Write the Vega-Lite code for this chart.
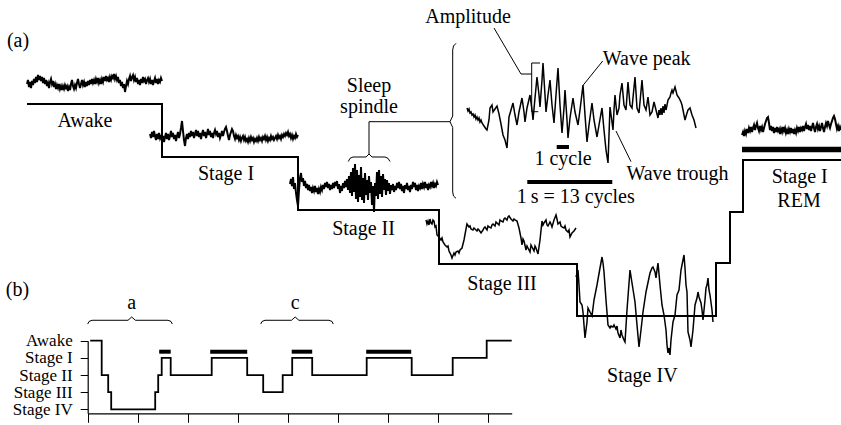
{
  "$schema": "https://vega.github.io/schema/vega-lite/v6.json",
  "width": 841,
  "height": 425,
  "autosize": {"type": "none"},
  "padding": 0,
  "background": "white",
  "config": {"view": {"stroke": null}, "font": "Liberation Serif"},
  "datasets": {
    "steps": [
      {"x": 27, "y": 104}, {"x": 162, "y": 157}, {"x": 298, "y": 210}, {"x": 439, "y": 264},
      {"x": 577, "y": 316}, {"x": 716, "y": 263}, {"x": 730, "y": 212}, {"x": 743, "y": 160}, {"x": 841, "y": 160}
    ],
    "eeg": [
      {"s":"W","x":27,"y":84},{"s":"W","x":28,"y":80},{"s":"W","x":29,"y":87},{"s":"W","x":30,"y":82},{"s":"W","x":31,"y":88},{"s":"W","x":32,"y":81},{"s":"W","x":33,"y":85},{"s":"W","x":34,"y":79},{"s":"W","x":35,"y":83},{"s":"W","x":36,"y":77},{"s":"W","x":37,"y":82},{"s":"W","x":38,"y":75},{"s":"W","x":39,"y":80},{"s":"W","x":40,"y":76},{"s":"W","x":41,"y":81},{"s":"W","x":42,"y":77},{"s":"W","x":43,"y":83},{"s":"W","x":44,"y":78},{"s":"W","x":45,"y":84},{"s":"W","x":46,"y":80},{"s":"W","x":47,"y":86},{"s":"W","x":48,"y":83},{"s":"W","x":49,"y":88},{"s":"W","x":50,"y":82},{"s":"W","x":51,"y":79},{"s":"W","x":52,"y":84},{"s":"W","x":53,"y":81},{"s":"W","x":54,"y":87},{"s":"W","x":55,"y":84},{"s":"W","x":56,"y":89},{"s":"W","x":57,"y":85},{"s":"W","x":58,"y":88},{"s":"W","x":59,"y":84},{"s":"W","x":60,"y":89},{"s":"W","x":61,"y":86},{"s":"W","x":62,"y":90},{"s":"W","x":63,"y":86},{"s":"W","x":64,"y":89},{"s":"W","x":65,"y":85},{"s":"W","x":66,"y":88},{"s":"W","x":67,"y":86},{"s":"W","x":68,"y":91},{"s":"W","x":69,"y":87},{"s":"W","x":70,"y":90},{"s":"W","x":71,"y":84},{"s":"W","x":72,"y":80},{"s":"W","x":73,"y":86},{"s":"W","x":74,"y":89},{"s":"W","x":75,"y":85},{"s":"W","x":76,"y":88},{"s":"W","x":77,"y":83},{"s":"W","x":78,"y":79},{"s":"W","x":79,"y":84},{"s":"W","x":80,"y":88},{"s":"W","x":81,"y":84},{"s":"W","x":82,"y":80},{"s":"W","x":83,"y":85},{"s":"W","x":84,"y":82},{"s":"W","x":85,"y":87},{"s":"W","x":86,"y":82},{"s":"W","x":87,"y":86},{"s":"W","x":88,"y":81},{"s":"W","x":89,"y":85},{"s":"W","x":90,"y":80},{"s":"W","x":91,"y":84},{"s":"W","x":92,"y":79},{"s":"W","x":93,"y":83},{"s":"W","x":94,"y":80},{"s":"W","x":95,"y":84},{"s":"W","x":96,"y":79},{"s":"W","x":97,"y":82},{"s":"W","x":98,"y":78},{"s":"W","x":99,"y":83},{"s":"W","x":100,"y":80},{"s":"W","x":101,"y":84},{"s":"W","x":102,"y":79},{"s":"W","x":103,"y":82},{"s":"W","x":104,"y":77},{"s":"W","x":105,"y":81},{"s":"W","x":106,"y":76},{"s":"W","x":107,"y":80},{"s":"W","x":108,"y":78},{"s":"W","x":109,"y":82},{"s":"W","x":110,"y":77},{"s":"W","x":111,"y":80},{"s":"W","x":112,"y":76},{"s":"W","x":113,"y":78},{"s":"W","x":114,"y":74},{"s":"W","x":115,"y":79},{"s":"W","x":116,"y":76},{"s":"W","x":117,"y":80},{"s":"W","x":118,"y":77},{"s":"W","x":119,"y":83},{"s":"W","x":120,"y":80},{"s":"W","x":121,"y":86},{"s":"W","x":122,"y":82},{"s":"W","x":123,"y":88},{"s":"W","x":124,"y":84},{"s":"W","x":125,"y":92},{"s":"W","x":126,"y":86},{"s":"W","x":127,"y":81},{"s":"W","x":128,"y":84},{"s":"W","x":129,"y":79},{"s":"W","x":130,"y":76},{"s":"W","x":131,"y":81},{"s":"W","x":132,"y":77},{"s":"W","x":133,"y":75},{"s":"W","x":134,"y":80},{"s":"W","x":135,"y":77},{"s":"W","x":136,"y":82},{"s":"W","x":137,"y":78},{"s":"W","x":138,"y":84},{"s":"W","x":139,"y":80},{"s":"W","x":140,"y":85},{"s":"W","x":141,"y":79},{"s":"W","x":142,"y":83},{"s":"W","x":143,"y":77},{"s":"W","x":144,"y":81},{"s":"W","x":145,"y":79},{"s":"W","x":146,"y":84},{"s":"W","x":147,"y":80},{"s":"W","x":148,"y":78},{"s":"W","x":149,"y":82},{"s":"W","x":150,"y":79},{"s":"W","x":151,"y":84},{"s":"W","x":152,"y":80},{"s":"W","x":153,"y":85},{"s":"W","x":154,"y":81},{"s":"W","x":155,"y":78},{"s":"W","x":156,"y":83},{"s":"W","x":157,"y":79},{"s":"W","x":158,"y":84},{"s":"W","x":159,"y":80},{"s":"W","x":160,"y":82},{"s":"W","x":161,"y":78},{"s":"W","x":162,"y":81},
      {"s":"1","x":150,"y":134},{"s":"1","x":151,"y":138},{"s":"1","x":152,"y":132},{"s":"1","x":153,"y":137},{"s":"1","x":154,"y":131},{"s":"1","x":155,"y":136},{"s":"1","x":156,"y":140},{"s":"1","x":157,"y":134},{"s":"1","x":158,"y":139},{"s":"1","x":159,"y":133},{"s":"1","x":160,"y":138},{"s":"1","x":161,"y":135},{"s":"1","x":162,"y":141},{"s":"1","x":163,"y":136},{"s":"1","x":164,"y":142},{"s":"1","x":165,"y":137},{"s":"1","x":166,"y":133},{"s":"1","x":167,"y":139},{"s":"1","x":168,"y":134},{"s":"1","x":169,"y":140},{"s":"1","x":170,"y":136},{"s":"1","x":171,"y":131},{"s":"1","x":172,"y":137},{"s":"1","x":173,"y":133},{"s":"1","x":174,"y":139},{"s":"1","x":175,"y":135},{"s":"1","x":176,"y":141},{"s":"1","x":177,"y":136},{"s":"1","x":178,"y":132},{"s":"1","x":179,"y":138},{"s":"1","x":180,"y":134},{"s":"1","x":181,"y":128},{"s":"1","x":182,"y":121},{"s":"1","x":183,"y":131},{"s":"1","x":184,"y":140},{"s":"1","x":185,"y":146},{"s":"1","x":186,"y":138},{"s":"1","x":187,"y":134},{"s":"1","x":188,"y":139},{"s":"1","x":189,"y":133},{"s":"1","x":190,"y":137},{"s":"1","x":191,"y":131},{"s":"1","x":192,"y":136},{"s":"1","x":193,"y":132},{"s":"1","x":194,"y":138},{"s":"1","x":195,"y":134},{"s":"1","x":196,"y":130},{"s":"1","x":197,"y":136},{"s":"1","x":198,"y":131},{"s":"1","x":199,"y":137},{"s":"1","x":200,"y":133},{"s":"1","x":201,"y":139},{"s":"1","x":202,"y":134},{"s":"1","x":203,"y":130},{"s":"1","x":204,"y":136},{"s":"1","x":205,"y":132},{"s":"1","x":206,"y":138},{"s":"1","x":207,"y":134},{"s":"1","x":208,"y":129},{"s":"1","x":209,"y":135},{"s":"1","x":210,"y":131},{"s":"1","x":211,"y":137},{"s":"1","x":212,"y":133},{"s":"1","x":213,"y":138},{"s":"1","x":214,"y":133},{"s":"1","x":215,"y":130},{"s":"1","x":216,"y":134},{"s":"1","x":217,"y":131},{"s":"1","x":218,"y":137},{"s":"1","x":219,"y":133},{"s":"1","x":220,"y":138},{"s":"1","x":221,"y":135},{"s":"1","x":222,"y":131},{"s":"1","x":223,"y":136},{"s":"1","x":224,"y":132},{"s":"1","x":225,"y":129},{"s":"1","x":226,"y":127},{"s":"1","x":227,"y":131},{"s":"1","x":228,"y":136},{"s":"1","x":229,"y":140},{"s":"1","x":230,"y":135},{"s":"1","x":231,"y":132},{"s":"1","x":232,"y":129},{"s":"1","x":233,"y":131},{"s":"1","x":234,"y":136},{"s":"1","x":235,"y":139},{"s":"1","x":236,"y":135},{"s":"1","x":237,"y":138},{"s":"1","x":238,"y":136},{"s":"1","x":239,"y":140},{"s":"1","x":240,"y":137},{"s":"1","x":241,"y":141},{"s":"1","x":242,"y":138},{"s":"1","x":243,"y":136},{"s":"1","x":244,"y":140},{"s":"1","x":245,"y":137},{"s":"1","x":246,"y":141},{"s":"1","x":247,"y":139},{"s":"1","x":248,"y":142},{"s":"1","x":249,"y":138},{"s":"1","x":250,"y":141},{"s":"1","x":251,"y":137},{"s":"1","x":252,"y":140},{"s":"1","x":253,"y":138},{"s":"1","x":254,"y":142},{"s":"1","x":255,"y":139},{"s":"1","x":256,"y":141},{"s":"1","x":257,"y":138},{"s":"1","x":258,"y":141},{"s":"1","x":259,"y":137},{"s":"1","x":260,"y":140},{"s":"1","x":261,"y":138},{"s":"1","x":262,"y":141},{"s":"1","x":263,"y":137},{"s":"1","x":264,"y":139},{"s":"1","x":265,"y":136},{"s":"1","x":266,"y":140},{"s":"1","x":267,"y":137},{"s":"1","x":268,"y":141},{"s":"1","x":269,"y":138},{"s":"1","x":270,"y":140},{"s":"1","x":271,"y":136},{"s":"1","x":272,"y":139},{"s":"1","x":273,"y":137},{"s":"1","x":274,"y":140},{"s":"1","x":275,"y":138},{"s":"1","x":276,"y":136},{"s":"1","x":277,"y":139},{"s":"1","x":278,"y":135},{"s":"1","x":279,"y":138},{"s":"1","x":280,"y":136},{"s":"1","x":281,"y":139},{"s":"1","x":282,"y":135},{"s":"1","x":283,"y":137},{"s":"1","x":284,"y":134},{"s":"1","x":285,"y":136},{"s":"1","x":286,"y":133},{"s":"1","x":287,"y":135},{"s":"1","x":288,"y":132},{"s":"1","x":289,"y":136},{"s":"1","x":290,"y":134},{"s":"1","x":291,"y":138},{"s":"1","x":292,"y":135},{"s":"1","x":293,"y":139},{"s":"1","x":294,"y":136},{"s":"1","x":295,"y":138},{"s":"1","x":296,"y":134},{"s":"1","x":297,"y":137},{"s":"1","x":298,"y":135},
      {"s":"2","x":290,"y":184},{"s":"2","x":291,"y":179},{"s":"2","x":292,"y":186},{"s":"2","x":293,"y":177},{"s":"2","x":294,"y":189},{"s":"2","x":295,"y":183},{"s":"2","x":296,"y":193},{"s":"2","x":297,"y":200},{"s":"2","x":298,"y":206},{"s":"2","x":299,"y":190},{"s":"2","x":300,"y":178},{"s":"2","x":301,"y":173},{"s":"2","x":302,"y":182},{"s":"2","x":303,"y":178},{"s":"2","x":304,"y":186},{"s":"2","x":305,"y":181},{"s":"2","x":306,"y":188},{"s":"2","x":307,"y":184},{"s":"2","x":308,"y":190},{"s":"2","x":309,"y":185},{"s":"2","x":310,"y":191},{"s":"2","x":311,"y":187},{"s":"2","x":312,"y":193},{"s":"2","x":313,"y":188},{"s":"2","x":314,"y":191},{"s":"2","x":315,"y":186},{"s":"2","x":316,"y":192},{"s":"2","x":317,"y":188},{"s":"2","x":318,"y":194},{"s":"2","x":319,"y":189},{"s":"2","x":320,"y":192},{"s":"2","x":321,"y":187},{"s":"2","x":322,"y":190},{"s":"2","x":323,"y":185},{"s":"2","x":324,"y":189},{"s":"2","x":325,"y":183},{"s":"2","x":326,"y":187},{"s":"2","x":327,"y":182},{"s":"2","x":328,"y":188},{"s":"2","x":329,"y":184},{"s":"2","x":330,"y":190},{"s":"2","x":331,"y":185},{"s":"2","x":332,"y":189},{"s":"2","x":333,"y":183},{"s":"2","x":334,"y":188},{"s":"2","x":335,"y":182},{"s":"2","x":336,"y":186},{"s":"2","x":337,"y":181},{"s":"2","x":338,"y":189},{"s":"2","x":339,"y":184},{"s":"2","x":340,"y":193},{"s":"2","x":341,"y":186},{"s":"2","x":342,"y":191},{"s":"2","x":343,"y":183},{"s":"2","x":344,"y":188},{"s":"2","x":345,"y":181},{"s":"2","x":346,"y":187},{"s":"2","x":347,"y":179},{"s":"2","x":348,"y":190},{"s":"2","x":349,"y":176},{"s":"2","x":350,"y":193},{"s":"2","x":351,"y":172},{"s":"2","x":352,"y":196},{"s":"2","x":353,"y":168},{"s":"2","x":354,"y":192},{"s":"2","x":355,"y":164},{"s":"2","x":356,"y":199},{"s":"2","x":357,"y":170},{"s":"2","x":358,"y":202},{"s":"2","x":359,"y":175},{"s":"2","x":360,"y":197},{"s":"2","x":361,"y":167},{"s":"2","x":362,"y":200},{"s":"2","x":363,"y":178},{"s":"2","x":364,"y":203},{"s":"2","x":365,"y":173},{"s":"2","x":366,"y":195},{"s":"2","x":367,"y":180},{"s":"2","x":368,"y":200},{"s":"2","x":369,"y":176},{"s":"2","x":370,"y":193},{"s":"2","x":371,"y":182},{"s":"2","x":372,"y":205},{"s":"2","x":373,"y":186},{"s":"2","x":374,"y":212},{"s":"2","x":375,"y":183},{"s":"2","x":376,"y":196},{"s":"2","x":377,"y":172},{"s":"2","x":378,"y":199},{"s":"2","x":379,"y":170},{"s":"2","x":380,"y":194},{"s":"2","x":381,"y":176},{"s":"2","x":382,"y":197},{"s":"2","x":383,"y":174},{"s":"2","x":384,"y":190},{"s":"2","x":385,"y":179},{"s":"2","x":386,"y":195},{"s":"2","x":387,"y":180},{"s":"2","x":388,"y":191},{"s":"2","x":389,"y":183},{"s":"2","x":390,"y":194},{"s":"2","x":391,"y":185},{"s":"2","x":392,"y":190},{"s":"2","x":393,"y":184},{"s":"2","x":394,"y":192},{"s":"2","x":395,"y":186},{"s":"2","x":396,"y":190},{"s":"2","x":397,"y":183},{"s":"2","x":398,"y":188},{"s":"2","x":399,"y":182},{"s":"2","x":400,"y":189},{"s":"2","x":401,"y":184},{"s":"2","x":402,"y":191},{"s":"2","x":403,"y":186},{"s":"2","x":404,"y":193},{"s":"2","x":405,"y":185},{"s":"2","x":406,"y":189},{"s":"2","x":407,"y":183},{"s":"2","x":408,"y":190},{"s":"2","x":409,"y":186},{"s":"2","x":410,"y":192},{"s":"2","x":411,"y":185},{"s":"2","x":412,"y":189},{"s":"2","x":413,"y":182},{"s":"2","x":414,"y":187},{"s":"2","x":415,"y":183},{"s":"2","x":416,"y":190},{"s":"2","x":417,"y":185},{"s":"2","x":418,"y":191},{"s":"2","x":419,"y":186},{"s":"2","x":420,"y":188},{"s":"2","x":421,"y":183},{"s":"2","x":422,"y":189},{"s":"2","x":423,"y":184},{"s":"2","x":424,"y":187},{"s":"2","x":425,"y":182},{"s":"2","x":426,"y":188},{"s":"2","x":427,"y":184},{"s":"2","x":428,"y":190},{"s":"2","x":429,"y":185},{"s":"2","x":430,"y":187},{"s":"2","x":431,"y":182},{"s":"2","x":432,"y":186},{"s":"2","x":433,"y":183},{"s":"2","x":434,"y":188},{"s":"2","x":435,"y":184},{"s":"2","x":436,"y":186},{"s":"2","x":437,"y":182},{"s":"2","x":438,"y":185},
      {"s":"3","x":426,"y":220},{"s":"3","x":427,"y":224},{"s":"3","x":428,"y":221},{"s":"3","x":429,"y":225},{"s":"3","x":430,"y":219},{"s":"3","x":431,"y":223},{"s":"3","x":432,"y":224},{"s":"3","x":433,"y":220},{"s":"3","x":434,"y":221},{"s":"3","x":435,"y":227},{"s":"3","x":436,"y":226},{"s":"3","x":437,"y":235},{"s":"3","x":439,"y":237},{"s":"3","x":441,"y":240},{"s":"3","x":442,"y":238},{"s":"3","x":443,"y":242},{"s":"3","x":445,"y":245},{"s":"3","x":447,"y":247},{"s":"3","x":448,"y":246},{"s":"3","x":449,"y":251},{"s":"3","x":451,"y":255},{"s":"3","x":452,"y":258},{"s":"3","x":454,"y":253},{"s":"3","x":455,"y":255},{"s":"3","x":456,"y":252},{"s":"3","x":458,"y":251},{"s":"3","x":459,"y":253},{"s":"3","x":460,"y":250},{"s":"3","x":462,"y":248},{"s":"3","x":464,"y":240},{"s":"3","x":466,"y":229},{"s":"3","x":467,"y":224},{"s":"3","x":469,"y":227},{"s":"3","x":470,"y":226},{"s":"3","x":471,"y":229},{"s":"3","x":473,"y":230},{"s":"3","x":474,"y":228},{"s":"3","x":475,"y":229},{"s":"3","x":477,"y":231},{"s":"3","x":478,"y":229},{"s":"3","x":479,"y":230},{"s":"3","x":481,"y":233},{"s":"3","x":483,"y":230},{"s":"3","x":484,"y":228},{"s":"3","x":485,"y":227},{"s":"3","x":487,"y":230},{"s":"3","x":488,"y":226},{"s":"3","x":489,"y":227},{"s":"3","x":491,"y":228},{"s":"3","x":492,"y":225},{"s":"3","x":493,"y":224},{"s":"3","x":495,"y":226},{"s":"3","x":496,"y":222},{"s":"3","x":497,"y":223},{"s":"3","x":499,"y":225},{"s":"3","x":500,"y":220},{"s":"3","x":501,"y":221},{"s":"3","x":503,"y":222},{"s":"3","x":504,"y":219},{"s":"3","x":505,"y":218},{"s":"3","x":507,"y":220},{"s":"3","x":508,"y":217},{"s":"3","x":509,"y":216},{"s":"3","x":511,"y":219},{"s":"3","x":513,"y":221},{"s":"3","x":514,"y":219},{"s":"3","x":515,"y":220},{"s":"3","x":517,"y":221},{"s":"3","x":519,"y":228},{"s":"3","x":521,"y":238},{"s":"3","x":522,"y":245},{"s":"3","x":523,"y":239},{"s":"3","x":524,"y":241},{"s":"3","x":526,"y":250},{"s":"3","x":527,"y":246},{"s":"3","x":528,"y":248},{"s":"3","x":530,"y":252},{"s":"3","x":531,"y":245},{"s":"3","x":532,"y":247},{"s":"3","x":534,"y":251},{"s":"3","x":535,"y":246},{"s":"3","x":536,"y":248},{"s":"3","x":538,"y":254},{"s":"3","x":540,"y":240},{"s":"3","x":542,"y":221},{"s":"3","x":543,"y":225},{"s":"3","x":544,"y":223},{"s":"3","x":546,"y":220},{"s":"3","x":547,"y":225},{"s":"3","x":548,"y":226},{"s":"3","x":550,"y":222},{"s":"3","x":551,"y":224},{"s":"3","x":552,"y":227},{"s":"3","x":554,"y":220},{"s":"3","x":556,"y":215},{"s":"3","x":557,"y":219},{"s":"3","x":558,"y":224},{"s":"3","x":560,"y":222},{"s":"3","x":561,"y":226},{"s":"3","x":562,"y":227},{"s":"3","x":564,"y":228},{"s":"3","x":565,"y":226},{"s":"3","x":566,"y":230},{"s":"3","x":568,"y":232},{"s":"3","x":569,"y":230},{"s":"3","x":570,"y":237},{"s":"3","x":572,"y":233},{"s":"3","x":574,"y":231},{"s":"3","x":576,"y":228},
      {"s":"4","x":576,"y":277},{"s":"4","x":578,"y":270},{"s":"4","x":579,"y":285},{"s":"4","x":580,"y":302},{"s":"4","x":582,"y":305},{"s":"4","x":583,"y":312},{"s":"4","x":585,"y":338},{"s":"4","x":587,"y":322},{"s":"4","x":588,"y":308},{"s":"4","x":590,"y":312},{"s":"4","x":592,"y":316},{"s":"4","x":594,"y":300},{"s":"4","x":597,"y":285},{"s":"4","x":600,"y":268},{"s":"4","x":602,"y":257},{"s":"4","x":603,"y":263},{"s":"4","x":604,"y":272},{"s":"4","x":606,"y":300},{"s":"4","x":608,"y":325},{"s":"4","x":610,"y":328},{"s":"4","x":611,"y":326},{"s":"4","x":613,"y":327},{"s":"4","x":614,"y":325},{"s":"4","x":616,"y":329},{"s":"4","x":617,"y":326},{"s":"4","x":618,"y":333},{"s":"4","x":620,"y":338},{"s":"4","x":621,"y":330},{"s":"4","x":622,"y":335},{"s":"4","x":624,"y":340},{"s":"4","x":625,"y":342},{"s":"4","x":627,"y":310},{"s":"4","x":630,"y":270},{"s":"4","x":632,"y":283},{"s":"4","x":635,"y":302},{"s":"4","x":637,"y":325},{"s":"4","x":639,"y":347},{"s":"4","x":641,"y":330},{"s":"4","x":643,"y":312},{"s":"4","x":646,"y":292},{"s":"4","x":650,"y":273},{"s":"4","x":652,"y":268},{"s":"4","x":653,"y":267},{"s":"4","x":655,"y":272},{"s":"4","x":656,"y":278},{"s":"4","x":657,"y":270},{"s":"4","x":658,"y":263},{"s":"4","x":660,"y":285},{"s":"4","x":662,"y":305},{"s":"4","x":664,"y":315},{"s":"4","x":666,"y":330},{"s":"4","x":667,"y":345},{"s":"4","x":668,"y":353},{"s":"4","x":669,"y":348},{"s":"4","x":670,"y":355},{"s":"4","x":671,"y":340},{"s":"4","x":673,"y":322},{"s":"4","x":675,"y":315},{"s":"4","x":677,"y":295},{"s":"4","x":679,"y":290},{"s":"4","x":681,"y":270},{"s":"4","x":682,"y":265},{"s":"4","x":684,"y":255},{"s":"4","x":685,"y":268},{"s":"4","x":686,"y":285},{"s":"4","x":687,"y":292},{"s":"4","x":688,"y":332},{"s":"4","x":690,"y":340},{"s":"4","x":691,"y":347},{"s":"4","x":693,"y":330},{"s":"4","x":695,"y":305},{"s":"4","x":697,"y":298},{"s":"4","x":698,"y":292},{"s":"4","x":699,"y":297},{"s":"4","x":701,"y":303},{"s":"4","x":702,"y":310},{"s":"4","x":703,"y":320},{"s":"4","x":705,"y":300},{"s":"4","x":706,"y":288},{"s":"4","x":707,"y":285},{"s":"4","x":708,"y":278},{"s":"4","x":709,"y":290},{"s":"4","x":710,"y":295},{"s":"4","x":712,"y":310},{"s":"4","x":713,"y":322},
      {"s":"Z","x":467,"y":108},{"s":"Z","x":468,"y":111},{"s":"Z","x":469,"y":109},{"s":"Z","x":470,"y":113},{"s":"Z","x":471,"y":112},{"s":"Z","x":472,"y":115},{"s":"Z","x":473,"y":114},{"s":"Z","x":474,"y":117},{"s":"Z","x":475,"y":115},{"s":"Z","x":476,"y":119},{"s":"Z","x":477,"y":117},{"s":"Z","x":478,"y":120},{"s":"Z","x":479,"y":118},{"s":"Z","x":480,"y":122},{"s":"Z","x":481,"y":120},{"s":"Z","x":482,"y":123},{"s":"Z","x":484,"y":126},{"s":"Z","x":486,"y":129},{"s":"Z","x":487,"y":130},{"s":"Z","x":489,"y":120},{"s":"Z","x":490,"y":108},{"s":"Z","x":492,"y":105},{"s":"Z","x":493,"y":112},{"s":"Z","x":495,"y":109},{"s":"Z","x":497,"y":106},{"s":"Z","x":499,"y":114},{"s":"Z","x":501,"y":124},{"s":"Z","x":503,"y":135},{"s":"Z","x":505,"y":140},{"s":"Z","x":507,"y":148},{"s":"Z","x":509,"y":117},{"s":"Z","x":511,"y":110},{"s":"Z","x":513,"y":103},{"s":"Z","x":515,"y":115},{"s":"Z","x":517,"y":125},{"s":"Z","x":519,"y":112},{"s":"Z","x":522,"y":98},{"s":"Z","x":524,"y":112},{"s":"Z","x":525,"y":122},{"s":"Z","x":527,"y":108},{"s":"Z","x":530,"y":95},{"s":"Z","x":532,"y":110},{"s":"Z","x":533,"y":120},{"s":"Z","x":535,"y":98},{"s":"Z","x":537,"y":77},{"s":"Z","x":539,"y":95},{"s":"Z","x":540,"y":107},{"s":"Z","x":542,"y":80},{"s":"Z","x":543,"y":63},{"s":"Z","x":545,"y":95},{"s":"Z","x":546,"y":112},{"s":"Z","x":548,"y":95},{"s":"Z","x":550,"y":80},{"s":"Z","x":552,"y":105},{"s":"Z","x":554,"y":123},{"s":"Z","x":556,"y":95},{"s":"Z","x":558,"y":68},{"s":"Z","x":560,"y":105},{"s":"Z","x":562,"y":133},{"s":"Z","x":564,"y":108},{"s":"Z","x":565,"y":90},{"s":"Z","x":567,"y":120},{"s":"Z","x":568,"y":138},{"s":"Z","x":570,"y":118},{"s":"Z","x":573,"y":98},{"s":"Z","x":575,"y":112},{"s":"Z","x":578,"y":125},{"s":"Z","x":580,"y":110},{"s":"Z","x":583,"y":85},{"s":"Z","x":585,"y":115},{"s":"Z","x":587,"y":142},{"s":"Z","x":589,"y":125},{"s":"Z","x":592,"y":103},{"s":"Z","x":594,"y":120},{"s":"Z","x":597,"y":137},{"s":"Z","x":599,"y":125},{"s":"Z","x":602,"y":108},{"s":"Z","x":604,"y":130},{"s":"Z","x":606,"y":150},{"s":"Z","x":608,"y":163},{"s":"Z","x":610,"y":107},{"s":"Z","x":612,"y":122},{"s":"Z","x":613,"y":130},{"s":"Z","x":614,"y":110},{"s":"Z","x":615,"y":95},{"s":"Z","x":617,"y":115},{"s":"Z","x":619,"y":108},{"s":"Z","x":620,"y":95},{"s":"Z","x":622,"y":83},{"s":"Z","x":624,"y":105},{"s":"Z","x":626,"y":110},{"s":"Z","x":628,"y":82},{"s":"Z","x":630,"y":105},{"s":"Z","x":632,"y":108},{"s":"Z","x":635,"y":77},{"s":"Z","x":637,"y":108},{"s":"Z","x":639,"y":113},{"s":"Z","x":642,"y":80},{"s":"Z","x":644,"y":105},{"s":"Z","x":646,"y":110},{"s":"Z","x":648,"y":97},{"s":"Z","x":650,"y":115},{"s":"Z","x":652,"y":112},{"s":"Z","x":654,"y":102},{"s":"Z","x":656,"y":110},{"s":"Z","x":658,"y":118},{"s":"Z","x":659,"y":110},{"s":"Z","x":660,"y":115},{"s":"Z","x":661,"y":108},{"s":"Z","x":662,"y":115},{"s":"Z","x":663,"y":106},{"s":"Z","x":664,"y":113},{"s":"Z","x":665,"y":104},{"s":"Z","x":666,"y":110},{"s":"Z","x":668,"y":100},{"s":"Z","x":670,"y":97},{"s":"Z","x":671,"y":93},{"s":"Z","x":672,"y":90},{"s":"Z","x":673,"y":93},{"s":"Z","x":675,"y":87},{"s":"Z","x":677,"y":95},{"s":"Z","x":679,"y":98},{"s":"Z","x":681,"y":102},{"s":"Z","x":682,"y":105},{"s":"Z","x":684,"y":115},{"s":"Z","x":685,"y":120},{"s":"Z","x":687,"y":113},{"s":"Z","x":688,"y":110},{"s":"Z","x":690,"y":108},{"s":"Z","x":692,"y":115},{"s":"Z","x":694,"y":120},{"s":"Z","x":696,"y":128},
      {"s":"R","x":742,"y":135},{"s":"R","x":743,"y":132},{"s":"R","x":744,"y":136},{"s":"R","x":745,"y":131},{"s":"R","x":746,"y":134},{"s":"R","x":747,"y":129},{"s":"R","x":748,"y":133},{"s":"R","x":749,"y":128},{"s":"R","x":750,"y":131},{"s":"R","x":751,"y":127},{"s":"R","x":752,"y":132},{"s":"R","x":753,"y":128},{"s":"R","x":754,"y":125},{"s":"R","x":755,"y":130},{"s":"R","x":756,"y":126},{"s":"R","x":757,"y":123},{"s":"R","x":758,"y":128},{"s":"R","x":759,"y":131},{"s":"R","x":760,"y":126},{"s":"R","x":761,"y":130},{"s":"R","x":762,"y":127},{"s":"R","x":763,"y":132},{"s":"R","x":764,"y":128},{"s":"R","x":765,"y":124},{"s":"R","x":766,"y":121},{"s":"R","x":767,"y":118},{"s":"R","x":768,"y":117},{"s":"R","x":769,"y":123},{"s":"R","x":770,"y":130},{"s":"R","x":771,"y":126},{"s":"R","x":772,"y":131},{"s":"R","x":773,"y":127},{"s":"R","x":774,"y":133},{"s":"R","x":775,"y":128},{"s":"R","x":776,"y":132},{"s":"R","x":777,"y":127},{"s":"R","x":778,"y":131},{"s":"R","x":779,"y":129},{"s":"R","x":780,"y":134},{"s":"R","x":781,"y":129},{"s":"R","x":782,"y":132},{"s":"R","x":783,"y":127},{"s":"R","x":784,"y":131},{"s":"R","x":785,"y":128},{"s":"R","x":786,"y":133},{"s":"R","x":787,"y":130},{"s":"R","x":788,"y":134},{"s":"R","x":789,"y":129},{"s":"R","x":790,"y":132},{"s":"R","x":791,"y":128},{"s":"R","x":792,"y":133},{"s":"R","x":793,"y":129},{"s":"R","x":794,"y":134},{"s":"R","x":795,"y":130},{"s":"R","x":796,"y":133},{"s":"R","x":797,"y":128},{"s":"R","x":798,"y":131},{"s":"R","x":799,"y":127},{"s":"R","x":800,"y":132},{"s":"R","x":801,"y":128},{"s":"R","x":802,"y":130},{"s":"R","x":803,"y":126},{"s":"R","x":804,"y":131},{"s":"R","x":805,"y":127},{"s":"R","x":806,"y":124},{"s":"R","x":807,"y":129},{"s":"R","x":808,"y":125},{"s":"R","x":809,"y":130},{"s":"R","x":810,"y":126},{"s":"R","x":811,"y":131},{"s":"R","x":812,"y":127},{"s":"R","x":813,"y":123},{"s":"R","x":814,"y":128},{"s":"R","x":815,"y":132},{"s":"R","x":816,"y":127},{"s":"R","x":817,"y":124},{"s":"R","x":818,"y":129},{"s":"R","x":819,"y":126},{"s":"R","x":820,"y":131},{"s":"R","x":821,"y":127},{"s":"R","x":822,"y":123},{"s":"R","x":823,"y":128},{"s":"R","x":824,"y":132},{"s":"R","x":825,"y":127},{"s":"R","x":826,"y":123},{"s":"R","x":827,"y":126},{"s":"R","x":828,"y":121},{"s":"R","x":829,"y":125},{"s":"R","x":830,"y":128},{"s":"R","x":831,"y":124},{"s":"R","x":832,"y":121},{"s":"R","x":833,"y":118},{"s":"R","x":834,"y":116},{"s":"R","x":835,"y":119},{"s":"R","x":836,"y":124},{"s":"R","x":837,"y":129},{"s":"R","x":838,"y":126},{"s":"R","x":839,"y":131},{"s":"R","x":840,"y":127},{"s":"R","x":841,"y":130}
    ],
    "ann": [
      {"p":"spb","x":348.3,"y":161.5},{"p":"spb","x":350,"y":158.3},{"p":"spb","x":353,"y":157},{"p":"spb","x":366,"y":157},{"p":"spb","x":369,"y":154},{"p":"spb","x":372,"y":157},{"p":"spb","x":385,"y":157},{"p":"spb","x":388,"y":158.3},{"p":"spb","x":390,"y":161.5},
      {"p":"spl","x":369,"y":154},{"p":"spl","x":369,"y":121.7},{"p":"spl","x":450,"y":121.7},
      {"p":"big","x":456,"y":43.3},{"p":"big","x":453.5,"y":46},{"p":"big","x":452.7,"y":50},{"p":"big","x":452.7,"y":116},{"p":"big","x":450,"y":121.7},{"p":"big","x":452.7,"y":127.5},{"p":"big","x":452.7,"y":192},{"p":"big","x":453.5,"y":196},{"p":"big","x":456,"y":198.3},
      {"p":"amp1","x":494,"y":28},{"p":"amp1","x":521,"y":74},{"p":"amp1","x":531.7,"y":74},
      {"p":"amp2","x":540,"y":63},{"p":"amp2","x":531.7,"y":63},{"p":"amp2","x":531.7,"y":111.7},{"p":"amp2","x":538.3,"y":111.7},
      {"p":"pk","x":602.7,"y":61},{"p":"pk","x":583.3,"y":85},
      {"p":"tr","x":631,"y":161.7},{"p":"tr","x":616,"y":131}
    ],
    "bars": [
      {"k":"rem","x":742,"x2":841,"y":149.5},
      {"k":"cycle","x":556.7,"x2":569,"y":147},
      {"k":"second","x":527.3,"x2":612.3,"y":182}
    ],
    "labels": [
      {"t":"(a)","x":18,"y":47},
      {"t":"Awake","x":85,"y":127},
      {"t":"Stage I","x":226,"y":180},
      {"t":"Sleep","x":369,"y":91.7},
      {"t":"spindle","x":369,"y":113.3},
      {"t":"Stage II","x":363.5,"y":235},
      {"t":"Amplitude","x":468,"y":22.5},
      {"t":"Wave peak","x":646.7,"y":65},
      {"t":"1 cycle","x":563,"y":165},
      {"t":"Wave trough","x":677.5,"y":180},
      {"t":"1\u2009s = 13 cycles","x":575.7,"y":203},
      {"t":"Stage III","x":502,"y":290},
      {"t":"Stage IV","x":642.3,"y":381.7},
      {"t":"Stage I","x":799.7,"y":183.3},
      {"t":"REM","x":799,"y":206.7},
      {"t":"(b)","x":17.5,"y":296}
    ],
    "hyp": [
      {"h":0.05,"s":0},{"h":0.28,"s":2},{"h":0.41,"s":3},{"h":0.47,"s":4},{"h":1.35,"s":3},{"h":1.41,"s":2},{"h":1.48,"s":1},{"h":1.66,"s":2},{"h":2.48,"s":1},{"h":3.19,"s":2},{"h":3.51,"s":3},{"h":3.9,"s":2},{"h":4.09,"s":1},{"h":4.49,"s":2},{"h":5.58,"s":1},{"h":6.48,"s":2},{"h":7.3,"s":1},{"h":7.98,"s":0},{"h":8.48,"s":0}
    ],
    "remBars": [
      {"h":1.43,"h2":1.66,"s":0.64},{"h":2.45,"h2":3.19,"s":0.64},{"h":4.08,"h2":4.49,"s":0.64},{"h":5.57,"h2":6.47,"s":0.64}
    ],
    "braces": [
      {"b":"a","h":0,"s":-0.97},{"b":"a","h":0.026,"s":-1.12},{"b":"a","h":0.086,"s":-1.19},{"b":"a","h":0.806,"s":-1.19},{"b":"a","h":0.88,"s":-1.38},{"b":"a","h":0.954,"s":-1.19},{"b":"a","h":1.606,"s":-1.19},{"b":"a","h":1.666,"s":-1.12},{"b":"a","h":1.692,"s":-0.97},
      {"b":"c","h":3.46,"s":-0.97},{"b":"c","h":3.486,"s":-1.12},{"b":"c","h":3.546,"s":-1.19},{"b":"c","h":4.076,"s":-1.19},{"b":"c","h":4.15,"s":-1.38},{"b":"c","h":4.224,"s":-1.19},{"b":"c","h":4.826,"s":-1.19},{"b":"c","h":4.886,"s":-1.12},{"b":"c","h":4.912,"s":-0.97}
    ],
    "braceLabels": [
      {"t":"a","h":0.88,"s":-1.83},
      {"t":"c","h":4.15,"s":-1.83}
    ]
  },
  "layer": [
    {
      "encoding": {
        "x": {"field": "x", "type": "quantitative", "scale": {"domain": [0, 841], "range": [0, 841], "nice": false, "zero": false}, "axis": null},
        "y": {"field": "y", "type": "quantitative", "scale": {"domain": [0, 425], "range": [0, 425], "nice": false, "zero": false}, "axis": null}
      },
      "layer": [
        {
          "data": {"name": "steps"},
          "mark": {"type": "line", "interpolate": "step-after", "color": "black", "strokeWidth": 2},
          "encoding": {}
        },
        {
          "data": {"name": "eeg"},
          "transform": [{"filter": "indexof(['W','1','2','R'], datum.s) >= 0"}],
          "mark": {"type": "line", "color": "black", "strokeWidth": 2},
          "encoding": {"detail": {"field": "s"}, "order": {"value": null}}
        },
        {
          "data": {"name": "eeg"},
          "transform": [{"filter": "indexof(['W','1','2','R'], datum.s) < 0"}],
          "mark": {"type": "line", "color": "black", "strokeWidth": 1.5},
          "encoding": {"detail": {"field": "s"}, "order": {"value": null}}
        },
        {
          "data": {"name": "ann"},
          "mark": {"type": "line", "color": "black", "strokeWidth": 1},
          "encoding": {"detail": {"field": "p"}, "order": {"value": null}}
        },
        {
          "data": {"name": "bars"},
          "transform": [{"filter": "datum.k === 'rem'"}],
          "mark": {"type": "rule", "color": "black", "strokeWidth": 5.5},
          "encoding": {"x2": {"field": "x2"}}
        },
        {
          "data": {"name": "bars"},
          "transform": [{"filter": "datum.k !== 'rem'"}],
          "mark": {"type": "rule", "color": "black", "strokeWidth": 4},
          "encoding": {"x2": {"field": "x2"}}
        },
        {
          "data": {"name": "labels"},
          "mark": {"type": "text", "font": "Liberation Serif", "fontSize": 20, "color": "black", "align": "center", "baseline": "alphabetic"},
          "encoding": {"text": {"field": "t"}}
        }
      ]
    },
    {
      "encoding": {
        "x": {
          "field": "h", "type": "quantitative",
          "scale": {"domain": [0, 8.48], "range": [87.7, 511.7], "nice": false, "zero": false},
          "axis": {"orient": "bottom", "offset": -11.7, "values": [0, 1, 2, 3, 4, 5, 6, 7, 8], "labels": false, "ticks": true, "tickSize": 9, "tickColor": "black", "domainColor": "black", "domainWidth": 1.2, "grid": false, "title": null}
        },
        "y": {
          "field": "s", "type": "quantitative",
          "scale": {"domain": [0, 4.23], "range": [340.7, 413.3], "nice": false, "zero": false},
          "axis": {"orient": "left", "offset": -87.7, "values": [0, 1, 2, 3, 4], "labelExpr": "['Awake','Stage I','Stage II','Stage III','Stage IV'][datum.value]", "labelFont": "Liberation Serif", "labelFontSize": 17, "labelColor": "black", "labelPadding": 8, "labelOverlap": false, "tickSize": 7.5, "tickColor": "black", "domainColor": "black", "domainWidth": 1.2, "grid": false, "title": null}
        }
      },
      "layer": [
        {
          "data": {"name": "hyp"},
          "mark": {"type": "line", "interpolate": "step-after", "color": "black", "strokeWidth": 1.8},
          "encoding": {}
        },
        {
          "data": {"name": "remBars"},
          "mark": {"type": "rule", "color": "black", "strokeWidth": 4},
          "encoding": {"x2": {"field": "h2"}}
        },
        {
          "data": {"name": "braces"},
          "mark": {"type": "line", "color": "black", "strokeWidth": 1},
          "encoding": {"detail": {"field": "b"}, "order": {"value": null}}
        },
        {
          "data": {"name": "braceLabels"},
          "mark": {"type": "text", "font": "Liberation Serif", "fontSize": 20, "color": "black", "align": "center", "baseline": "alphabetic"},
          "encoding": {"text": {"field": "t"}}
        }
      ]
    }
  ],
  "resolve": {"scale": {"x": "independent", "y": "independent"}}
}
